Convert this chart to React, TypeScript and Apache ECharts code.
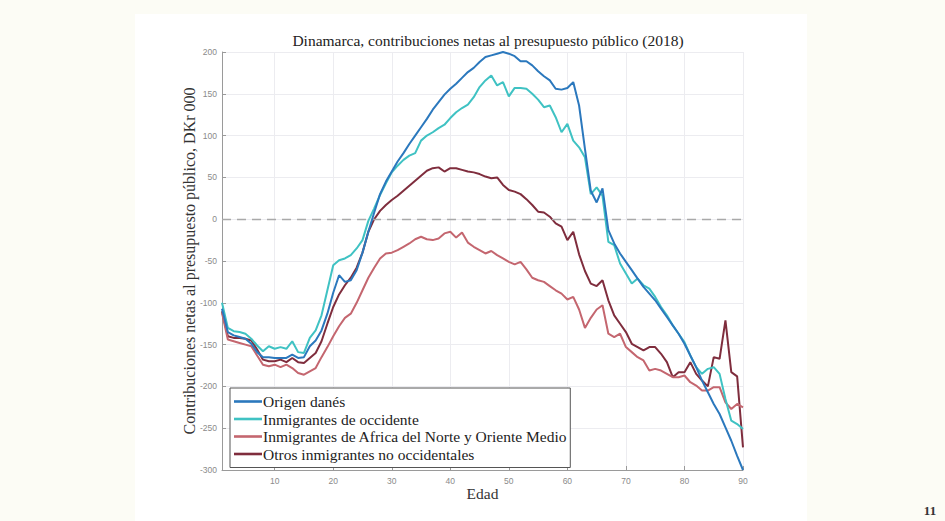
import React, { useEffect, useRef } from "react";
import * as echarts from "echarts";

const TITLE = "Dinamarca, contribuciones netas al presupuesto público (2018)";
const X_NAME = "Edad";
const Y_NAME = "Contribuciones netas al presupuesto público, DKr 000";
const PAGE_NUMBER = "11";

const AGES = [
  1, 2, 3, 4, 5, 6, 7, 8, 9, 10, 11, 12, 13, 14, 15, 16, 17, 18, 19, 20,
  21, 22, 23, 24, 25, 26, 27, 28, 29, 30, 31, 32, 33, 34, 35, 36, 37, 38, 39, 40,
  41, 42, 43, 44, 45, 46, 47, 48, 49, 50, 51, 52, 53, 54, 55, 56, 57, 58, 59, 60,
  61, 62, 63, 64, 65, 66, 67, 68, 69, 70, 71, 72, 73, 74, 75, 76, 77, 78, 79, 80,
  81, 82, 83, 84, 85, 86, 87, 88, 89, 90,
];

const SERIES_NAMES = [
  "Origen danés",
  "Inmigrantes de occidente",
  "Inmigrantes de Africa del Norte y Oriente Medio",
  "Otros inmigrantes no occidentales",
];

const ORIGEN_DANES = [
  -107, -135, -139, -141, -143, -149, -159, -165, -165, -166,
  -166, -166, -162, -166, -165, -152, -145, -133, -113, -88,
  -67, -75, -73, -61, -40, -15, 8, 30, 45, 57,
  69, 79, 90, 100, 110, 120, 131, 140, 149, 156,
  162, 169, 176, 181, 188, 194, 196, 198, 200, 198,
  195, 189, 189, 184, 177, 171, 166, 156, 155, 157,
  164, 136, 84, 34, 20, 37, -13, -29, -41, -51,
  -61, -71, -81, -89, -97, -107, -117, -127, -137, -149,
  -163, -177, -193, -207, -221, -233, -249, -265, -283, -300,
];

const OCCIDENTE = [
  -100, -130, -134, -135, -137, -143, -151, -158, -152, -155,
  -153, -155, -146, -159, -160, -142, -133, -115, -85, -55,
  -49, -47, -43, -35, -25, -2, 13, 29, 43, 56,
  64, 71, 76, 79, 94, 100, 104, 109, 113, 121,
  128, 133, 137, 146, 158, 166, 172, 160, 164, 147,
  157, 157, 156, 150, 143, 134, 136, 122, 104, 114,
  94, 86, 74, 30, 38, 28, -27, -31, -53, -65,
  -77, -71, -79, -83, -93, -105, -115, -127, -137, -147,
  -163, -177, -185, -179, -177, -185, -215, -241, -245, -251,
];

const AFRICA_NORTE = [
  -112, -144, -146, -148, -150, -152, -163, -174, -176, -174,
  -177, -174, -178, -184, -186, -182, -178, -165, -153, -140,
  -128, -118, -113, -100, -85, -70, -58, -47, -41, -40,
  -37, -33, -29, -24, -21, -24, -25, -23, -17, -15,
  -22, -16, -28, -33, -37, -41, -38, -43, -47, -51,
  -54, -51, -60, -70, -73, -75, -80, -85, -89, -96,
  -93, -108, -130, -118, -108, -103, -137, -141, -137, -153,
  -159, -165, -169, -181, -179, -181, -185, -189, -189, -187,
  -195, -199, -205, -205, -201, -201, -219, -227, -221, -225,
];

const OTROS = [
  -110, -140, -142, -142, -143, -145, -156, -168, -170, -170,
  -168, -171, -166, -171, -172, -166, -160, -146, -125, -105,
  -90, -79, -70, -58, -40, -15, 0, 10, 17, 23,
  28, 34, 40, 46, 52, 58, 61, 62, 57, 61,
  61, 59, 57, 56, 54, 51, 49, 50, 41, 35,
  33, 30, 24, 17, 9, 8, 3, -5, -9, -25,
  -15, -42, -62, -77, -80, -73, -97, -115, -125, -135,
  -149, -153, -157, -153, -153, -161, -171, -189, -183, -183,
  -171, -185, -193, -200, -165, -167, -121, -183, -188, -273,
];

const SERIES_VALUES = [ORIGEN_DANES, OCCIDENTE, AFRICA_NORTE, OTROS];
const SERIES_COLORS = ["#2b78bd", "#3fc2c3", "#c4666f", "#7f2d3d"];

const SERIF = '"Liberation Serif", "DejaVu Serif", serif';
const SANS = '"Liberation Sans", "DejaVu Sans", sans-serif';

export default function App() {
  const ref = useRef<HTMLDivElement>(null);

  useEffect(() => {
    if (!ref.current) return;
    const chart = echarts.init(ref.current, null, { renderer: "svg" });
    const everyTen = (_i: number, v: string) => Number(v) % 10 === 0;

    const series: any[] = SERIES_NAMES.map((name, i) => ({
      name,
      type: "line",
      data: SERIES_VALUES[i],
      symbol: "none",
      showSymbol: false,
      color: SERIES_COLORS[i],
      lineStyle: { width: 2, color: SERIES_COLORS[i] },
      z: 3 + (3 - i),
    }));
    series[0].markLine = {
      silent: true,
      symbol: ["none", "none"],
      label: { show: false },
      lineStyle: { type: [9, 6], color: "#a9a9a9", width: 1.4 },
      data: [{ yAxis: 0 }],
    };

    chart.setOption({
      animation: false,
      backgroundColor: "#fcfcf5",
      graphic: [
        {
          type: "rect",
          z: -10,
          silent: true,
          shape: { x: 135, y: 14, width: 672, height: 507 },
          style: { fill: "#ffffff" },
        },
        {
          type: "text",
          x: 930,
          y: 510,
          style: {
            text: PAGE_NUMBER,
            font: `bold 13px ${SERIF}`,
            fill: "#333333",
            align: "center",
            verticalAlign: "middle",
          },
        },
      ],
      title: {
        text: TITLE,
        left: 483,
        top: 27,
        textAlign: "center",
        textStyle: {
          fontFamily: SERIF,
          fontSize: 15.5,
          fontWeight: "normal",
          color: "#222222",
        },
      },
      grid: { left: 222, right: 202, top: 52, bottom: 51 },
      legend: {
        data: SERIES_NAMES,
        orient: "vertical",
        left: 230,
        top: 388,
        icon: "rect",
        itemWidth: 28,
        itemHeight: 2.6,
        itemGap: 0.5,
        padding: [5, 3, 5, 4],
        borderColor: "#555555",
        borderWidth: 1,
        backgroundColor: "#ffffff",
        selectedMode: false,
        textStyle: {
          fontFamily: SERIF,
          fontSize: 15.5,
          color: "#222222",
          lineHeight: 17,
          padding: [0, 0, 0, -4],
        },
      },
      xAxis: {
        type: "category",
        data: AGES.map(String),
        boundaryGap: false,
        name: X_NAME,
        nameLocation: "middle",
        nameGap: 15,
        nameMoveOverlap: false,
        nameTextStyle: { fontFamily: SERIF, fontSize: 15.5, color: "#333333" },
        axisLine: { show: true, onZero: false, lineStyle: { color: "#9a9a9a", width: 1 } },
        axisTick: { show: true, inside: true, length: 4, interval: everyTen, lineStyle: { color: "#9a9a9a" } },
        axisLabel: { interval: everyTen, margin: 6, fontFamily: SANS, fontSize: 8.5, color: "#8a8a8a" },
        splitLine: { show: true, interval: everyTen, lineStyle: { color: "#ececf0", width: 1 } },
      },
      yAxis: {
        type: "value",
        min: -300,
        max: 200,
        interval: 50,
        name: Y_NAME,
        nameLocation: "middle",
        nameGap: 25,
        nameMoveOverlap: false,
        nameTextStyle: { fontFamily: SERIF, fontSize: 16, color: "#333333" },
        axisLine: { show: true, lineStyle: { color: "#9a9a9a", width: 1 } },
        axisTick: { show: true, inside: true, length: 4, lineStyle: { color: "#9a9a9a" } },
        axisLabel: { margin: 5, fontFamily: SANS, fontSize: 8.5, color: "#8a8a8a" },
        splitLine: { show: true, lineStyle: { color: "#ececf0", width: 1 } },
      },
      series,
    });

    return () => chart.dispose();
  }, []);

  return (
    <div
      ref={ref}
      style={{ position: "fixed", left: 0, top: 0, width: 945, height: 521 }}
    />
  );
}
